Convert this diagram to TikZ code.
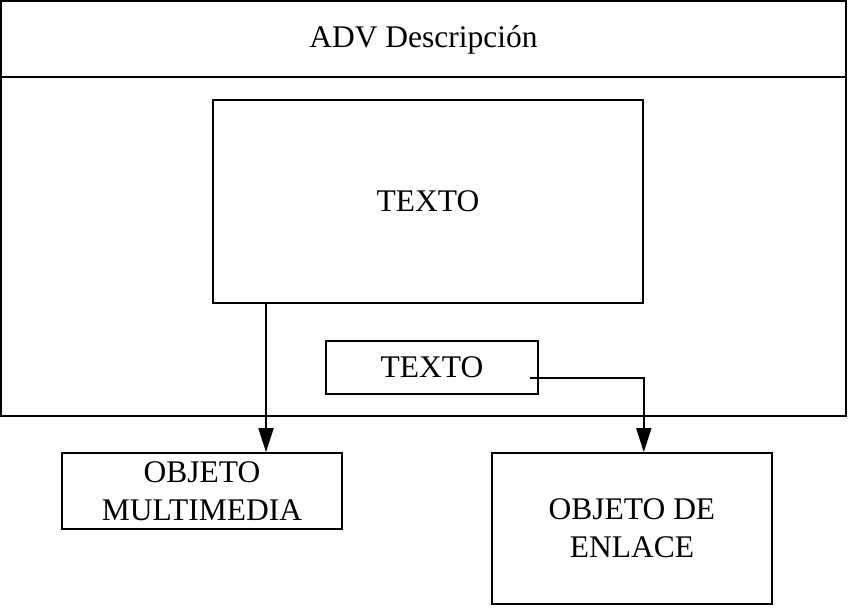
\documentclass[tikz,border=0pt]{standalone}
\usepackage{fontspec}
\setmainfont{Liberation Serif}
\usetikzlibrary{arrows.meta}
\begin{document}
\begin{tikzpicture}[x=1pt,y=-1pt,
  box/.style={draw, line width=1.6pt, inner sep=0pt, align=center, font=\fontsize{31.5}{38}\selectfont},
  lbl/.style={inner sep=0pt, align=center, font=\fontsize{31.5}{38}\selectfont},
  arr/.style={line width=1.6pt, -{Triangle[length=24pt,width=15pt]}}]
\useasboundingbox (0,0) rectangle (848,608);
% outer frame
\node[box, minimum width=845pt, minimum height=415pt] (outer) at (423.5,208.5) {};
\coordinate (hl) at (0,77);
\draw[line width=1.6pt] (outer.west |- hl) -- (outer.east |- hl);
\node[lbl] (title) at (423.5,40) {ADV Descripción};
% inner boxes
\node[box, minimum width=430pt, minimum height=203pt] (big) at (428,201.5) {TEXTO};
\node[box, minimum width=212pt, minimum height=53pt] (small) at (432,367.5) {TEXTO};
% lower boxes
\node[box, minimum width=280pt, minimum height=76pt] (mm) at (202,491) {OBJETO\\MULTIMEDIA};
\node[box, minimum width=280pt, minimum height=151pt] (enl) at (632,528.5) {OBJETO DE\\ENLACE};
% connectors
\coordinate (a1) at (266,0);
\draw[arr] (a1 |- big.south) -- (a1 |- mm.north);
\coordinate (s) at (530,378);
\draw[arr] (s) -| (big.east |- enl.north);
\end{tikzpicture}
\end{document}
